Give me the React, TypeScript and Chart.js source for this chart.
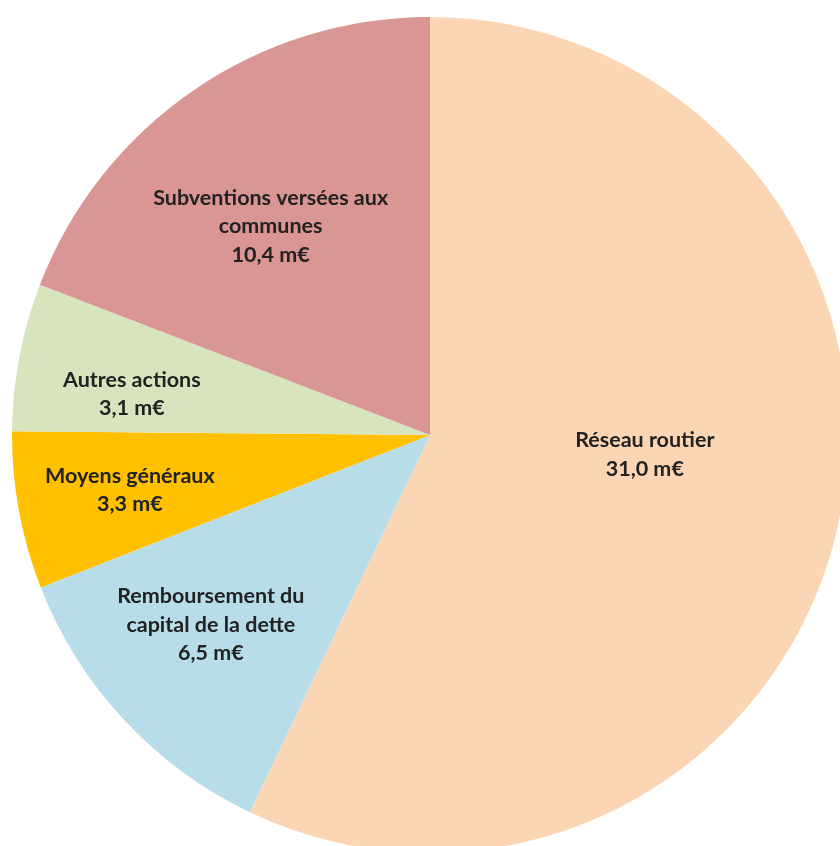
import React, { useEffect, useRef } from "react";
import { Chart, registerables } from "chart.js";

Chart.register(...registerables);

const categories = [
  "Réseau routier",
  "Remboursement du capital de la dette",
  "Moyens généraux",
  "Autres actions",
  "Subventions versées aux communes",
];
const labelLines = [
  ["Réseau routier"],
  ["Remboursement du", "capital de la dette"],
  ["Moyens généraux"],
  ["Autres actions"],
  ["Subventions versées aux", "communes"],
];
const values = [31.0, 6.5, 3.3, 3.1, 10.4];
const unit = "m€";

const colors = ["#FCD5B5", "#B7DEE8", "#FFC000", "#D7E4BD", "#D99694"];

// label placement inside each slice: radius fraction and angle shift (degrees)
const labelRadius = [0.516, 0.694, 0.73, 0.72, 0.628];
const labelAngleShift = [-7.5, 2, 0, -3, -2.9];

const fmt = (v: number) => v.toFixed(1).replace(".", ",") + " " + unit;

const sliceLabels = {
  id: "sliceLabels",
  afterDatasetsDraw(chart: any) {
    const ctx = chart.ctx;
    const meta = chart.getDatasetMeta(0);
    ctx.save();
    ctx.font = "bold 21.5px Lato";
    ctx.fillStyle = "#222222";
    ctx.textAlign = "center";
    ctx.textBaseline = "middle";
    const lh = 28.5;
    meta.data.forEach((arc: any, i: number) => {
      const { x, y, startAngle, endAngle, outerRadius } = arc.getProps(
        ["x", "y", "startAngle", "endAngle", "outerRadius"],
        true
      );
      const mid = (startAngle + endAngle) / 2 + (labelAngleShift[i] * Math.PI) / 180;
      const r = outerRadius * labelRadius[i];
      const cx = x + r * Math.cos(mid);
      const cy = y + r * Math.sin(mid);
      const lines = [...labelLines[i], fmt(values[i])];
      const top = cy - ((lines.length - 1) * lh) / 2;
      lines.forEach((t, k) => ctx.fillText(t, cx, top + k * lh));
    });
    ctx.restore();
  },
};

export default function App() {
  const ref = useRef<HTMLCanvasElement>(null);
  useEffect(() => {
    if (!ref.current) return;
    const chart = new Chart(ref.current, {
      type: "pie",
      data: {
        labels: categories,
        datasets: [
          {
            data: values,
            backgroundColor: colors,
            borderWidth: 0,
          },
        ],
      },
      options: {
        responsive: false,
        animation: false,
        layout: { padding: 0 },
        plugins: {
          legend: { display: false },
          tooltip: { enabled: false },
        },
      },
      plugins: [sliceLabels],
    });
    return () => chart.destroy();
  }, []);
  return (
    <div
      style={{
        position: "fixed",
        inset: 0,
        overflow: "hidden",
        background: "#fff",
      }}
    >
      <canvas
        ref={ref}
        width={836}
        height={836}
        style={{ position: "absolute", left: 12, top: 17, width: 836, height: 836 }}
      />
    </div>
  );
}
